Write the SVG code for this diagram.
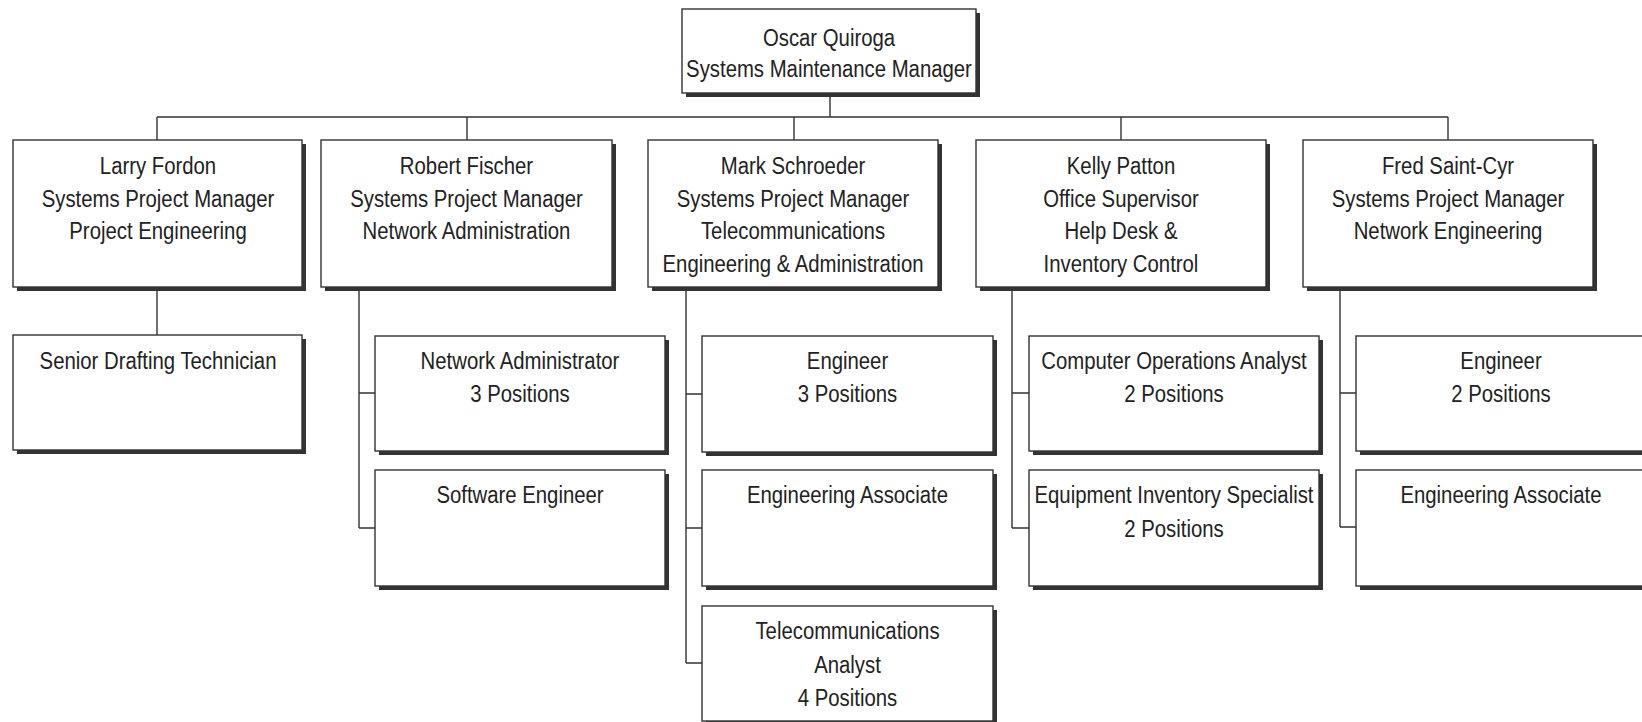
<svg xmlns="http://www.w3.org/2000/svg" width="1642" height="722" viewBox="0 0 1642 722">
<style>
.box{fill:#fff;stroke:#333;stroke-width:1.4}
.sh{fill:#333}
.ln{fill:none;stroke:#333;stroke-width:1.4}
text{font-family:"Liberation Sans",Arial,sans-serif;font-size:24.5px;fill:#222;text-anchor:middle}
</style>
<rect width="1642" height="722" fill="#fff"/>
<g id="connectors">
<path class="ln" d="M830 93V117M157 117H1448M157 117V140M467 117V140M794 117V140M1121 117V140M1448 117V140"/>
<path class="ln" d="M157 287V335"/>
<path class="ln" d="M359 287V528M359 393H375M359 528H375"/>
<path class="ln" d="M686 287V663M686 394H702M686 528H702M686 663H702"/>
<path class="ln" d="M1012 287V528M1012 393H1029M1012 528H1029"/>
<path class="ln" d="M1340 287V527M1340 393H1356M1340 527H1356"/>
</g>
<g id="oscar"><rect class="sh" x="686" y="13" width="294" height="84"/><rect class="box" x="682" y="9" width="294" height="84"/>
<g transform="translate(829 0) scale(0.83 1)"><text x="0" y="46.5">Oscar Quiroga</text><text x="0" y="77.5">Systems Maintenance Manager</text></g></g>
<g id="larry"><rect class="sh" x="17" y="144" width="289" height="147"/><rect class="box" x="13" y="140" width="289" height="147"/>
<g transform="translate(158 0) scale(0.83 1)"><text x="0" y="174.5">Larry Fordon</text><text x="0" y="207">Systems Project Manager</text><text x="0" y="239.5">Project Engineering</text></g></g>
<g id="robert"><rect class="sh" x="325" y="144" width="291" height="147"/><rect class="box" x="321" y="140" width="291" height="147"/>
<g transform="translate(466.5 0) scale(0.83 1)"><text x="0" y="174.5">Robert Fischer</text><text x="0" y="207">Systems Project Manager</text><text x="0" y="239.5">Network Administration</text></g></g>
<g id="mark"><rect class="sh" x="652" y="144" width="290" height="147"/><rect class="box" x="648" y="140" width="290" height="147"/>
<g transform="translate(793 0) scale(0.83 1)"><text x="0" y="174.5">Mark Schroeder</text><text x="0" y="207">Systems Project Manager</text><text x="0" y="239.5">Telecommunications</text><text x="0" y="272">Engineering &amp; Administration</text></g></g>
<g id="kelly"><rect class="sh" x="980" y="144" width="290" height="147"/><rect class="box" x="976" y="140" width="290" height="147"/>
<g transform="translate(1121 0) scale(0.83 1)"><text x="0" y="174.5">Kelly Patton</text><text x="0" y="207">Office Supervisor</text><text x="0" y="239.5">Help Desk &amp;</text><text x="0" y="272">Inventory Control</text></g></g>
<g id="fred"><rect class="sh" x="1307" y="144" width="290" height="147"/><rect class="box" x="1303" y="140" width="290" height="147"/>
<g transform="translate(1448 0) scale(0.83 1)"><text x="0" y="174.5">Fred Saint-Cyr</text><text x="0" y="207">Systems Project Manager</text><text x="0" y="239.5">Network Engineering</text></g></g>
<g id="senior-drafting"><rect class="sh" x="17" y="339" width="289" height="115"/><rect class="box" x="13" y="335" width="289" height="115"/>
<g transform="translate(158 0) scale(0.83 1)"><text x="0" y="369.5">Senior Drafting Technician</text></g></g>
<g id="network-admin"><rect class="sh" x="379" y="340" width="290" height="115"/><rect class="box" x="375" y="336" width="290" height="115"/>
<g transform="translate(520 0) scale(0.83 1)"><text x="0" y="369.5">Network Administrator</text><text x="0" y="402.5">3 Positions</text></g></g>
<g id="software-eng"><rect class="sh" x="379" y="474" width="290" height="116"/><rect class="box" x="375" y="470" width="290" height="116"/>
<g transform="translate(520 0) scale(0.83 1)"><text x="0" y="503.5">Software Engineer</text></g></g>
<g id="mark-engineer"><rect class="sh" x="706" y="340" width="291" height="116"/><rect class="box" x="702" y="336" width="291" height="116"/>
<g transform="translate(847.5 0) scale(0.83 1)"><text x="0" y="369.5">Engineer</text><text x="0" y="402.5">3 Positions</text></g></g>
<g id="mark-eng-assoc"><rect class="sh" x="706" y="474" width="291" height="116"/><rect class="box" x="702" y="470" width="291" height="116"/>
<g transform="translate(847.5 0) scale(0.83 1)"><text x="0" y="503.5">Engineering Associate</text></g></g>
<g id="telecom-analyst"><rect class="sh" x="706" y="610" width="291" height="115"/><rect class="box" x="702" y="606" width="291" height="115"/>
<g transform="translate(847.5 0) scale(0.83 1)"><text x="0" y="639.5">Telecommunications</text><text x="0" y="673">Analyst</text><text x="0" y="706.5">4 Positions</text></g></g>
<g id="comp-ops"><rect class="sh" x="1033" y="340" width="290" height="115"/><rect class="box" x="1029" y="336" width="290" height="115"/>
<g transform="translate(1174 0) scale(0.83 1)"><text x="0" y="369.5">Computer Operations Analyst</text><text x="0" y="402.5">2 Positions</text></g></g>
<g id="equip-inv"><rect class="sh" x="1033" y="474" width="290" height="116"/><rect class="box" x="1029" y="470" width="290" height="116"/>
<g transform="translate(1174 0) scale(0.83 1)"><text x="0" y="503.5">Equipment Inventory Specialist</text><text x="0" y="537">2 Positions</text></g></g>
<g id="fred-engineer"><rect class="sh" x="1360" y="340" width="290" height="115"/><rect class="box" x="1356" y="336" width="290" height="115"/>
<g transform="translate(1501 0) scale(0.83 1)"><text x="0" y="369.5">Engineer</text><text x="0" y="402.5">2 Positions</text></g></g>
<g id="fred-eng-assoc"><rect class="sh" x="1360" y="474" width="290" height="116"/><rect class="box" x="1356" y="470" width="290" height="116"/>
<g transform="translate(1501 0) scale(0.83 1)"><text x="0" y="503.5">Engineering Associate</text></g></g>
</svg>
